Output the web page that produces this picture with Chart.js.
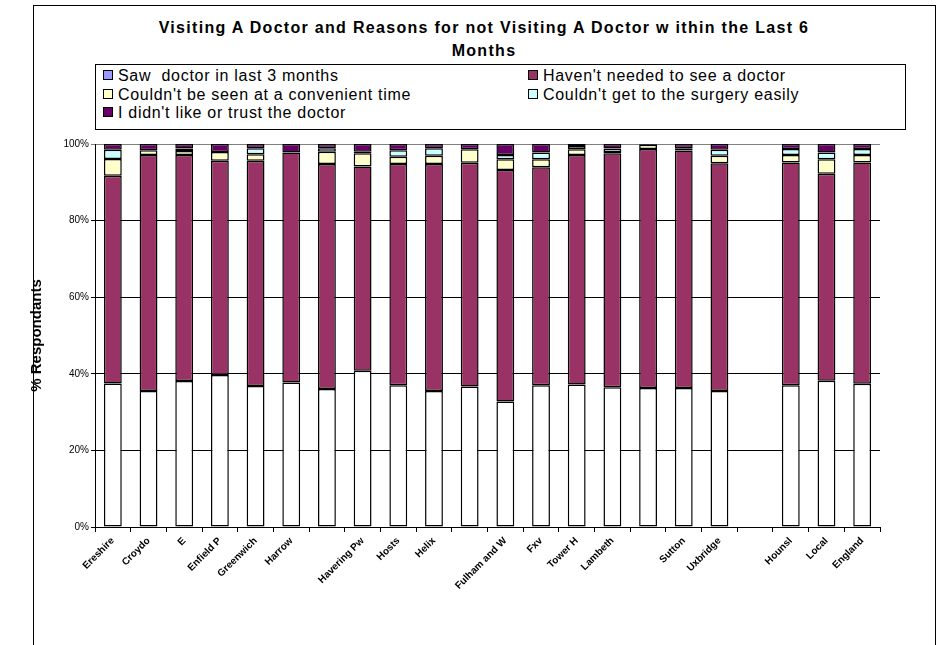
<!DOCTYPE html>
<html>
<head>
<meta charset="utf-8">
<title>Visiting A Doctor</title>
<script src="https://cdn.jsdelivr.net/npm/chart.js@4.4.0/dist/chart.umd.min.js"></script>
<style>
    body { margin: 0; background: #fff; font-family: "Liberation Sans", Arial, sans-serif; }
    #wrap { position: relative; width: 945px; height: 645px; overflow: hidden; }
    #frame { position: absolute; left: 33px; top: 5px; width: 901px; height: 660px; border: 1px solid #000; }
    #title { position: absolute; left: 33px; width: 902px; top: 16px; text-align: center; font-weight: bold; font-size: 16px; letter-spacing: 1.3px; line-height: 23px; }
    #legend { position: absolute; left: 95px; top: 64px; width: 809px; height: 64px; border: 1px solid #000; background: #fff; }
    .item { position: absolute; font-size: 16px; letter-spacing: 0.7px; line-height: 18px; white-space: pre; }
    .sw { display: inline-block; width: 8px; height: 8px; border: 1px solid #000; margin-right: 5px; vertical-align: 1px; }
    canvas { position: absolute; left: 0; top: 0; }
</style>
</head>
<body>
<div id="wrap">
    <div id="frame"></div>
    <div id="title">Visiting A Doctor and Reasons for not Visiting A Doctor w ithin the Last 6<br>Months</div>
    <div id="legend"></div>
    <canvas id="chart" width="945" height="645"></canvas>
</div>
<script>
// categories (blank where the reference shows no label)
const categories = ['Ereshire', 'Croydo', 'E', 'Enfield P', 'Greenwich', 'Harrow', '', 'Havering Pw', 'Hosts', 'Helix',
    '', 'Fulham and W', 'Fxv', 'Tower H', 'Lambeth', '', 'Sutton', 'Uxbridge', '', 'Hounsl', 'Local', 'England'];

// % of respondants, bottom to top of each bar
const sawDoctor = [37.5, 35.5, 38.1, 39.7, 36.8, 37.7, 36.0, 40.8, 37.0, 35.5, 36.7, 32.8, 37.0, 37.2, 36.5, 36.3, 36.3, 35.5, null, 37.0, 38.2, 37.4];
const notNeeded = [54.2, 61.6, 59.0, 55.9, 58.8, 60.1, 58.8, 53.3, 57.8, 59.3, 58.4, 60.4, 56.9, 59.9, 61.1, 62.4, 62.0, 59.5, null, 58.2, 54.0, 57.8];
const inconvenientTime = [4.4, 1.3, 1.1, 2.3, 1.7, null, 3.2, 3.5, 1.9, 2.1, 3.5, 2.8, 2.1, 1.5, 0.3, 1.1, null, 1.9, null, 1.9, 3.8, 1.9];
const surgeryAccess = [2.4, null, 0.6, null, 1.6, null, 0.9, 0.4, 1.7, 2.0, null, 1.1, 1.8, 0.9, 0.9, null, 0.6, 1.6, null, 1.6, 1.8, 1.6];
const distrust = [1.5, 1.6, 1.2, 2.1, 1.1, 2.2, 1.1, 2.0, 1.6, 1.1, 1.4, 2.9, 2.2, 0.5, 1.2, 0.2, 1.1, 1.5, null, 1.3, 2.2, 1.3];

const yTicks = [0, 20, 40, 60, 80, 100];

const series = [
    { label: 'Saw  doctor in last 3 months', data: sawDoctor, color: '#ffffff', legendColor: '#9999ff' },
    { label: "Haven't needed to see a doctor", data: notNeeded, color: '#993366' },
    { label: "Couldn't be seen at a convenient time", data: inconvenientTime, color: '#ffffcc' },
    { label: "Couldn't get to the surgery easily", data: surgeryAccess, color: '#ccffff' },
    { label: "I didn't like or trust the doctor", data: distrust, color: '#660066' }
];

// legend in two columns like the original
const legendPos = [[0, 0], [1, 0], [0, 1], [1, 1], [0, 2]];
const legendEl = document.getElementById('legend');
series.forEach((s, i) => {
    const div = document.createElement('div');
    div.className = 'item';
    div.style.left = (legendPos[i][0] ? 432 : 7) + 'px';
    div.style.top = (2 + legendPos[i][1] * 18.5) + 'px';
    div.innerHTML = '<span class="sw" style="background:' + (s.legendColor || s.color) + '"></span>';
    div.appendChild(document.createTextNode(s.label));
    legendEl.appendChild(div);
});

new Chart(document.getElementById('chart'), {
    type: 'bar',
    data: {
        labels: categories,
        datasets: series.map(s => ({
            label: s.label,
            data: s.data,
            backgroundColor: s.color,
            borderColor: '#000',
            borderWidth: 1.5,
            borderSkipped: false,
            categoryPercentage: 1,
            barPercentage: 0.5
        }))
    },
    options: {
        responsive: false,
        animation: false,
        layout: { padding: { left: 28, top: 144, right: 65, bottom: 0 } },
        plugins: { legend: { display: false }, tooltip: { enabled: false } },
        scales: {
            x: {
                stacked: true,
                afterFit: s => { s.height = 118; },
                grid: { drawOnChartArea: false, color: '#000', tickLength: 5 },
                border: { color: '#000' },
                ticks: {
                    autoSkip: false, maxRotation: 45, minRotation: 45, color: '#000',
                    font: { family: 'Liberation Sans', size: 10, weight: 'bold' }
                }
            },
            y: {
                stacked: true,
                min: 0,
                max: 100,
                afterFit: s => { s.width = 67; },
                afterBuildTicks: s => { s.ticks = yTicks.map(v => ({ value: v })); },
                grid: { color: ctx => ctx.tick && ctx.tick.value === 100 ? '#808080' : '#000', tickLength: 4 },
                border: { color: '#000' },
                ticks: {
                    color: '#000', padding: 2,
                    font: { family: 'Liberation Sans', size: 10 },
                    callback: v => v + '%'
                },
                title: {
                    display: true, text: '% Respondants', color: '#000', padding: 0,
                    font: { family: 'Liberation Sans', size: 15, weight: 'bold' }
                }
            }
        }
    }
});
</script>
</body>
</html>
